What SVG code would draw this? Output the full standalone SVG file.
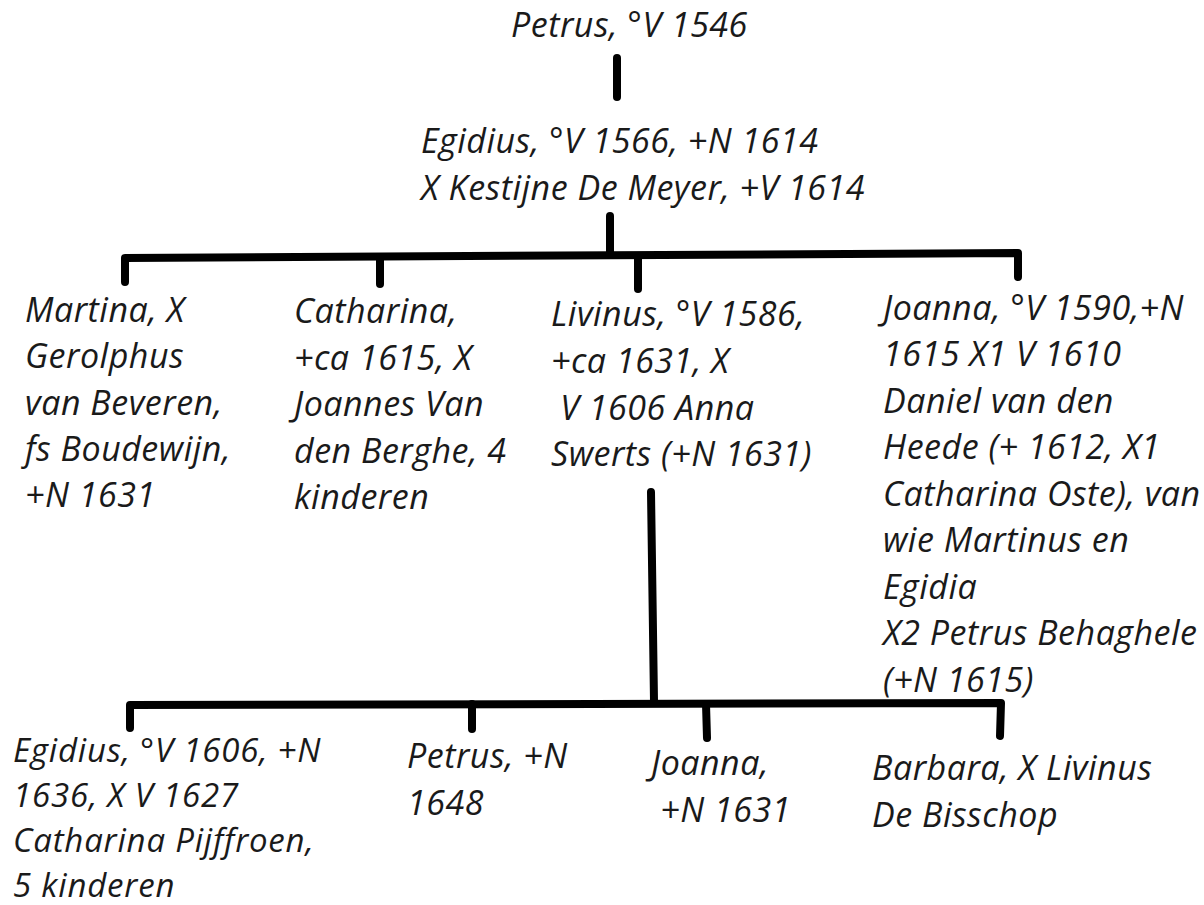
<svg xmlns="http://www.w3.org/2000/svg" width="1204" height="905" viewBox="0 0 1204 905">
<style>
  text { font-family: "Open Sans", "Noto Sans", "Liberation Sans", sans-serif; font-style: italic; font-size: 34px; letter-spacing: 0.5px; fill: #1a1a1a; }
  .sm { font-size: 33px; letter-spacing: 0.8px; }
  .ln { fill: none; stroke: #000; stroke-width: 8; stroke-linecap: round; stroke-linejoin: round; }
</style>
<rect width="1204" height="905" fill="#fff"/>
<g id="connectors">
  <path class="ln" d="M617,58 L617,97"/>
  <path class="ln" d="M610,216 L610,255"/>
  <path class="ln" d="M125,282 L125,258 L1018,253 L1018,277"/>
  <path class="ln" d="M380,257 L380,284"/>
  <path class="ln" d="M638,256 L638,289"/>
  <path class="ln" d="M651,492 L654,701"/>
  <path class="ln" d="M130,728 L130,705 L1001,703 L1000,736"/>
  <path class="ln" d="M472,704 L472,729"/>
  <path class="ln" d="M706,704 L707,738"/>
</g>
<g id="n-petrus-1546">
  <text x="511" y="37">Petrus, °V 1546</text>
</g>
<g id="n-egidius-1566">
  <text><tspan x="421" y="153">Egidius, °V 1566, +N 1614</tspan><tspan x="421" y="200">X Kestijne De Meyer, +V 1614</tspan></text>
</g>
<g id="n-martina">
  <text><tspan x="25" y="322">Martina, X</tspan><tspan x="25" y="368">Gerolphus</tspan><tspan x="25" y="415">van Beveren,</tspan><tspan x="25" y="461">fs Boudewijn,</tspan><tspan x="25" y="507">+N 1631</tspan></text>
</g>
<g id="n-catharina">
  <text><tspan x="294" y="323">Catharina,</tspan><tspan x="294" y="370">+ca 1615, X</tspan><tspan x="294" y="416">Joannes Van</tspan><tspan x="294" y="463">den Berghe, 4</tspan><tspan x="294" y="509">kinderen</tspan></text>
</g>
<g id="n-livinus">
  <text><tspan x="551" y="326">Livinus, °V 1586,</tspan><tspan x="551" y="373">+ca 1631, X</tspan><tspan x="551" y="420"> V 1606 Anna</tspan><tspan x="551" y="466">Swerts (+N 1631)</tspan></text>
</g>
<g id="n-joanna-1590">
  <text><tspan x="883" y="320">Joanna, °V 1590,+N</tspan><tspan x="883" y="366">1615 X1 V 1610</tspan><tspan x="883" y="413">Daniel van den</tspan><tspan x="883" y="459">Heede (+ 1612, X1</tspan><tspan x="883" y="506">Catharina Oste), van</tspan><tspan x="883" y="552">wie Martinus en</tspan><tspan x="883" y="599">Egidia</tspan><tspan x="883" y="645">X2 Petrus Behaghele</tspan><tspan x="883" y="692">(+N 1615)</tspan></text>
</g>
<g id="n-egidius-1606">
  <text class="sm"><tspan x="13" y="762">Egidius, °V 1606, +N</tspan><tspan x="13" y="807">1636, X V 1627</tspan><tspan x="13" y="852">Catharina Pijffroen,</tspan><tspan x="13" y="897">5 kinderen</tspan></text>
</g>
<g id="n-petrus-1648">
  <text><tspan x="407" y="768">Petrus, +N</tspan><tspan x="407" y="815">1648</tspan></text>
</g>
<g id="n-joanna-1631">
  <text><tspan x="651" y="775">Joanna,</tspan><tspan x="651" y="822"> +N 1631</tspan></text>
</g>
<g id="n-barbara">
  <text><tspan x="872" y="780">Barbara, X Livinus</tspan><tspan x="872" y="827">De Bisschop</tspan></text>
</g>
</svg>
